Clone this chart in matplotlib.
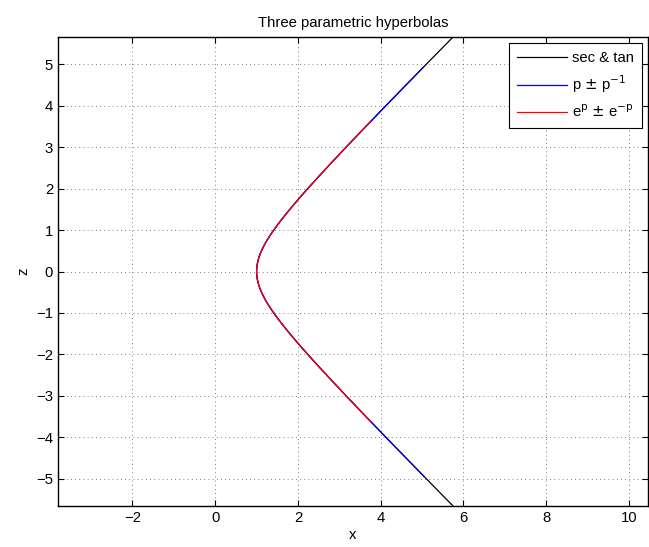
import numpy as np
import matplotlib.pyplot as plt

plt.rcParams['font.family'] = ['Liberation Sans', 'DejaVu Sans']

# --- parameter ranges ---
t_range = [-1.42, 1.42]      # sec & tan
p_range = [0.1, 10.0]        # p +- 1/p
q_range = [-2.0, 2.0]        # e^p +- e^-p
labels = ['sec & tan', r'p $\pm$ p$^{-1}$', r'e$^{\rm p}$ $\pm$ e$^{-\rm p}$']
colors = ['black', 'blue', 'red']
xlim = [-3.8, 10.46]
ylim = [-5.66, 5.66]
xticks = [-2, 0, 2, 4, 6, 8, 10]
yticks = [-5, -4, -3, -2, -1, 0, 1, 2, 3, 4, 5]

t = np.linspace(t_range[0], t_range[1], 600)
p = np.geomspace(p_range[0], p_range[1], 600)
q = np.linspace(q_range[0], q_range[1], 600)

curves = [
    (1 / np.cos(t), np.tan(t)),
    ((p + 1 / p) / 2, (p - 1 / p) / 2),
    (np.cosh(q), np.sinh(q)),
]

fs = 10.7
fig = plt.figure(figsize=(6.49, 5.47), dpi=100)
ax = fig.add_axes([58 / 649, 41 / 547, 590 / 649, 469 / 547])

for (x, z), lab, c in zip(curves, labels, colors):
    ax.plot(x, z, color=c, linewidth=0.9, label=lab)

ax.set_xlim(xlim)
ax.set_ylim(ylim)
ax.set_xticks(xticks)
ax.set_yticks(yticks)
ax.set_xticklabels([str(v).replace('-', '\u2212') for v in xticks])
ax.set_yticklabels([str(v).replace('-', '\u2212') for v in yticks])
ax.tick_params(direction='in', top=True, right=True, labelsize=fs, length=4, width=0.8)
ax.grid(True, linestyle=(0, (1, 4)), color='#555555', linewidth=0.6)
for s in ax.spines.values():
    s.set_linewidth(1.0)

ax.set_xlabel('x', fontsize=fs, labelpad=2)
ax.set_ylabel('z', fontsize=fs, labelpad=4)
ax.set_title('Three parametric hyperbolas', fontsize=fs, pad=7)

leg = ax.legend(loc='upper right', fontsize=fs, frameon=True, fancybox=False,
                edgecolor='black', framealpha=1, handlelength=3.4,
                borderaxespad=0.4, borderpad=0.55, labelspacing=0.55,
                handletextpad=0.3)
leg.get_frame().set_linewidth(0.8)

fig.savefig('out.png', dpi=100)
